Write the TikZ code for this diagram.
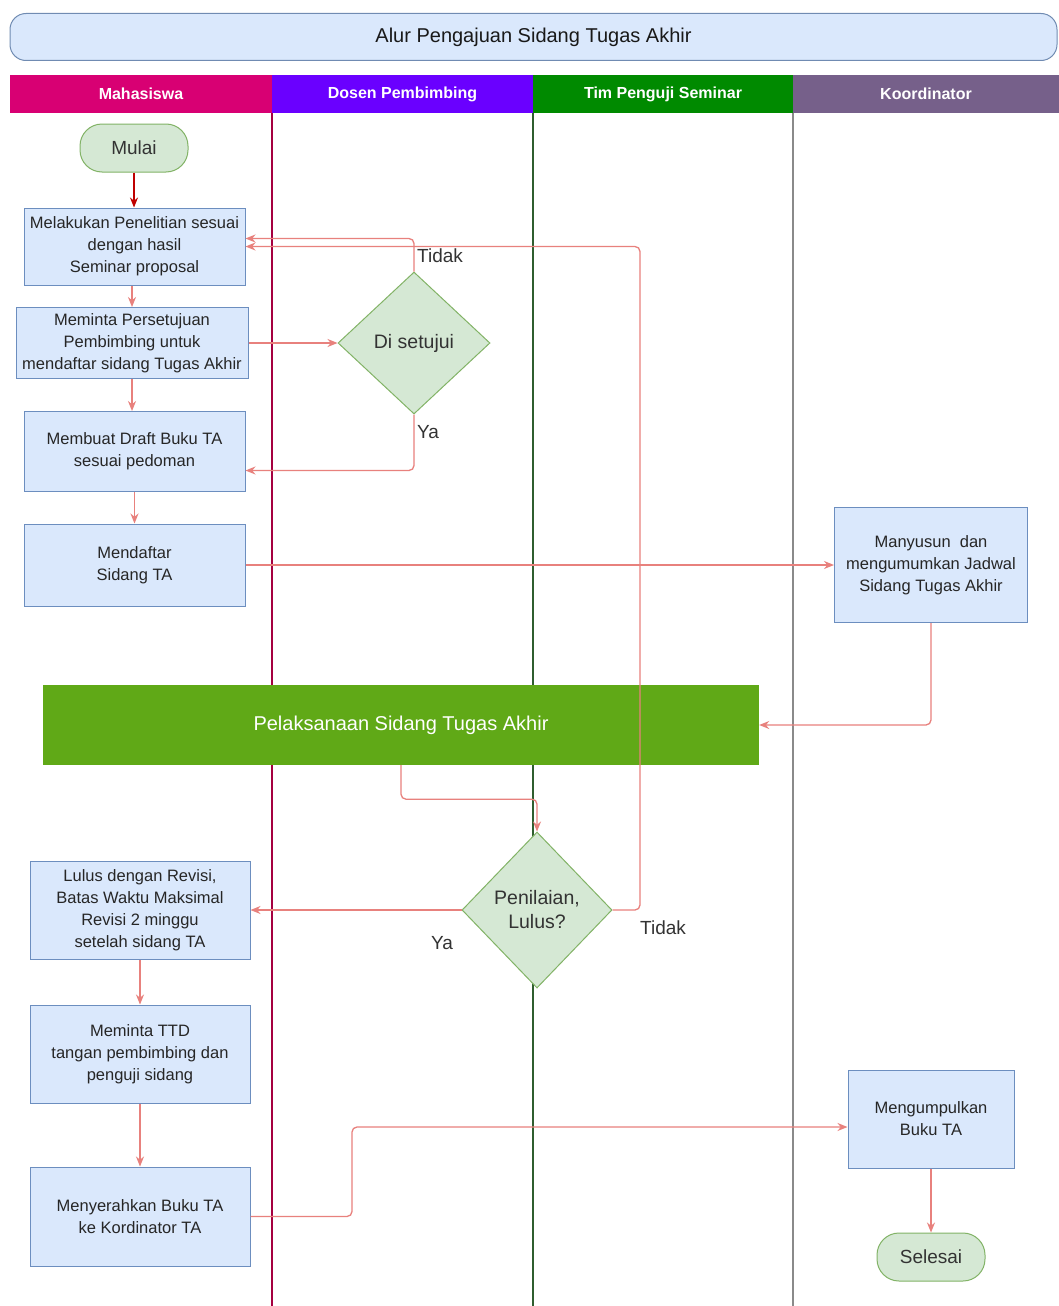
\documentclass[tikz,border=0pt]{standalone}
\usepackage{fontspec}
\setmainfont{Liberation Sans}
\usetikzlibrary{shapes.geometric,arrows.meta,calc}
\definecolor{boxfill}{HTML}{DAE8FC}
\definecolor{boxline}{HTML}{6C8EBF}
\definecolor{grfill}{HTML}{D5E8D4}
\definecolor{grline}{HTML}{82B366}
\definecolor{arrcol}{HTML}{E8817D}
\definecolor{hdmaha}{HTML}{D80073}
\definecolor{hddosen}{HTML}{6A00FF}
\definecolor{hdtim}{HTML}{008A00}
\definecolor{hdkoor}{HTML}{76608A}
\definecolor{lnmaha}{HTML}{A50040}
\definecolor{lntim}{HTML}{2F5E2F}
\definecolor{lnkoor}{HTML}{8A8A8A}
\definecolor{barfill}{HTML}{60A917}
\tikzset{
  procbox/.style={draw=boxline, fill=boxfill, line width=1pt, align=center, inner sep=0pt,
    font=\fontsize{16.5}{22}\selectfont, text=black!85},
  termbox/.style={draw=grline, fill=grfill, line width=1pt, rounded corners=22pt, inner sep=0pt,
    font=\fontsize{19}{22}\selectfont, text=black!80},
  decbox/.style={draw=grline, fill=grfill, line width=1pt, diamond, inner sep=0pt, align=center,
    font=\fontsize{19.5}{24}\selectfont, text=black!80},
  lanehead/.style={inner sep=0pt, text=white, font=\bfseries\fontsize{16}{18}\selectfont},
  conn/.style={draw=arrcol, line width=1.3pt, rounded corners=5pt,
    -{Stealth[length=10pt,width=8pt]}},
  edgelbl/.style={inner sep=0pt, anchor=west, font=\fontsize{19}{22}\selectfont, text=black!80}
}
\begin{document}
\begin{tikzpicture}[x=1pt,y=-1pt]
\useasboundingbox[fill=white] (0,0) rectangle (1059,1306);
% title
\node[draw=boxline!80!gray, fill=boxfill, line width=1pt, rounded corners=16pt,
  minimum width=1047pt, minimum height=47pt, inner sep=0pt,
  font=\fontsize{20}{22}\selectfont, text=black!90] (title) at (533.5,37) {Alur Pengajuan Sidang Tugas Akhir};
% lane headers
\node[lanehead, fill=hdmaha, minimum width=262pt, minimum height=38pt] (hmaha) at (141,94) {Mahasiswa};
\node[lanehead, fill=hddosen, minimum width=261pt, minimum height=38pt] (hdosen) at (402.5,94) {Dosen Pembimbing};
\node[lanehead, fill=hdtim, minimum width=260pt, minimum height=38pt] (htim) at (663,94) {Tim Penguji Seminar};
\node[lanehead, fill=hdkoor, minimum width=266pt, minimum height=38pt] (hkoor) at (926,94) {Koordinator};
% lane lines
\coordinate (l1t) at (272,113); \coordinate (l1b) at (272,1306);
\coordinate (l2t) at (533,113); \coordinate (l2b) at (533,1306);
\coordinate (l3t) at (793,113); \coordinate (l3b) at (793,1306);
\draw[lnmaha, line width=1.6pt] (l1t) -- (l1b);
\draw[lntim, line width=1.2pt] (l2t) -- (l2b);
\draw[lnkoor, line width=1.2pt] (l3t) -- (l3b);
% nodes
\node[termbox, minimum width=108pt, minimum height=48pt] (mulai) at (134,148) {Mulai};
\node[procbox, minimum width=221pt, minimum height=77pt] (b1) at (134.5,246.5) {Melakukan Penelitian sesuai\\dengan hasil\\Seminar proposal};
\node[procbox, minimum width=232pt, minimum height=71pt] (b2) at (132,343) {Meminta Persetujuan\\Pembimbing untuk\\mendaftar sidang Tugas Akhir};
\node[procbox, minimum width=221pt, minimum height=80pt] (b3) at (134.5,451.5) {Membuat Draft Buku TA\\sesuai pedoman};
\node[procbox, minimum width=221pt, minimum height=82pt] (b4) at (134.5,565) {Mendaftar\\Sidang TA};
\node[decbox, minimum width=152pt, minimum height=142pt, aspect=1.07] (d1) at (414,343) {Di setujui};
\node[procbox, minimum width=193pt, minimum height=115pt] (kb) at (931,565) {Manyusun\ \ dan\\mengumumkan Jadwal\\Sidang Tugas Akhir};
\node[fill=barfill, minimum width=716pt, minimum height=80pt, inner sep=0pt, text=white,
  font=\fontsize{20}{24}\selectfont] (bar) at (401,725) {Pelaksanaan Sidang Tugas Akhir};
\node[decbox, minimum width=150pt, minimum height=156pt, aspect=0.96] (d2) at (537,910) {Penilaian,\\Lulus?};
\node[procbox, minimum width=220pt, minimum height=98pt] (b5) at (140,910) {Lulus dengan Revisi,\\Batas Waktu Maksimal\\Revisi 2 minggu\\setelah sidang TA};
\node[procbox, minimum width=220pt, minimum height=98pt] (b6) at (140,1054) {Meminta TTD\\tangan pembimbing dan\\penguji sidang};
\node[procbox, minimum width=220pt, minimum height=99pt] (b7) at (140,1216.5) {Menyerahkan Buku TA\\ke Kordinator TA};
\node[procbox, minimum width=166pt, minimum height=98pt] (b8) at (931,1119) {Mengumpulkan\\Buku TA};
\node[termbox, minimum width=108pt, minimum height=48pt] (selesai) at (931,1257) {Selesai};
% connectors
\draw[conn, draw=red!75!black] (mulai.south) -- (mulai.south |- b1.north);
\draw[conn] (b1.south -| b2) -- (b2.north);
\draw[conn] (b2.south) -- (b2.south |- b3.north);
\draw[conn] (b3) -- (b4);
\draw[conn] (b2.east) -- (d1.west);
\draw[conn] (d1.north) |- ($(b1.east)+(0,-8)$);
\draw[conn] (d1.south) |- ($(b3.east)+(0,19)$);
\draw[conn] (b4.east) -- (kb.west);
\draw[conn] (kb.south) |- (bar.east);
\draw[conn] (bar.south) -- ++(0,34) -| (d2.north);
\draw[conn] (d2.east) -- (640,910) |- ($(b1.east)+(0,0)$);
\draw[conn] (d2.west) -- (b5.east);
\draw[conn] (b5) -- (b6);
\draw[conn] (b6) -- (b7);
\draw[conn] (b7.east) -- (352,1216.5) |- ($(b8.west)+(0,8)$);
\draw[conn] (b8) -- (selesai);
% edge labels
\node[edgelbl] (t1) at (417,256) {Tidak};
\node[edgelbl] (y1) at (417,432) {Ya};
\node[edgelbl] (t2) at (640,928) {Tidak};
\node[edgelbl] (y2) at (431,943) {Ya};
\end{tikzpicture}
\end{document}
